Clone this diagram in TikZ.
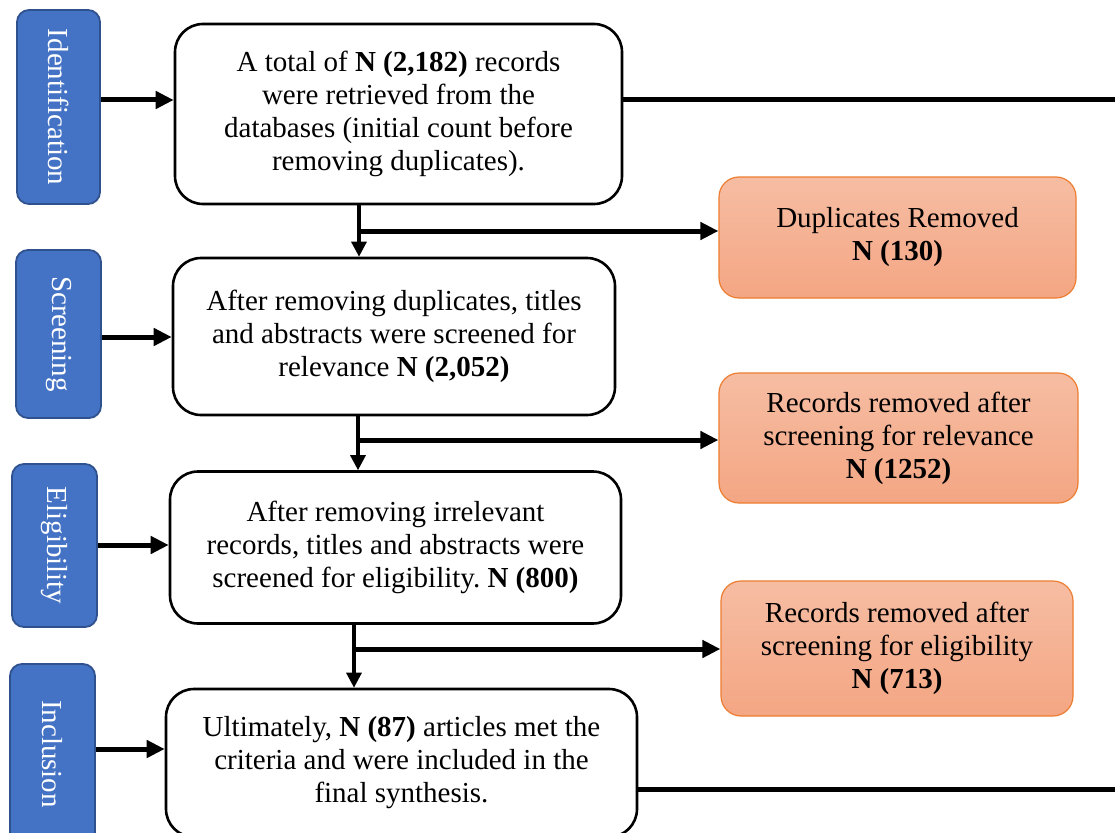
\documentclass[tikz,border=0pt]{standalone}
\usepackage{fontspec}
\setmainfont{Liberation Serif}
\usetikzlibrary{arrows.meta}
\frenchspacing
\definecolor{stageblue}{HTML}{4472C4}
\definecolor{stageedge}{HTML}{2F528F}
\definecolor{remtop}{HTML}{F6BDA3}
\definecolor{rembot}{HTML}{F4A683}
\definecolor{remedge}{HTML}{ED7D31}
\tikzset{
  stage/.style={rectangle,rounded corners=12pt,fill=stageblue,draw=stageedge,line width=1.8pt,
    text=white,inner sep=0pt},
  recbox/.style={rectangle,rounded corners=28pt,draw=black,line width=2.6pt,fill=white,
    align=center,inner sep=0pt},
  rembox/.style={rectangle,rounded corners=20pt,draw=remedge,line width=1.2pt,
    top color=remtop,bottom color=rembot,align=center,inner sep=0pt},
  bigarrow/.style={line width=5pt,-{Triangle[length=18pt,width=17pt]}},
  downarrow/.style={line width=3.2pt,-{Triangle[length=15pt,width=15pt]}},
  plainline/.style={line width=5pt}
}
\begin{document}
\begin{tikzpicture}[x=1pt,y=-1pt,font=\fontsize{29}{33}\selectfont]
\clip (0,0) rectangle (1115,832);
\fill[white] (0,0) rectangle (1115,832);
% stages
\node[stage,minimum width=83pt,minimum height=194pt] (sid) at (58.5,107) {};
\node[rotate=-90,text=white] at (sid.center) {Identification};
\node[stage,minimum width=85pt,minimum height=168pt] (ssc) at (58.5,334) {};
\node[rotate=-90,text=white] at (ssc.center) {Screening};
\node[stage,minimum width=85pt,minimum height=163pt] (sel) at (54.5,545.5) {};
\node[rotate=-90,text=white] at (sel.center) {Eligibility};
\node[stage,minimum width=85pt,minimum height=180pt] (sin) at (52.5,754) {};
\node[rotate=-90,text=white] at (sin.center) {Inclusion};
% records
\node[recbox,minimum width=447pt,minimum height=180pt] (rec) at (398.5,114)
  {A total of \textbf{N (2,182)} records\\were retrieved from the\\databases (initial count before\\removing duplicates).};
\node[recbox,minimum width=442pt,minimum height=157pt] (scr) at (394,336.5)
  {After removing duplicates, titles\\and abstracts were screened for\\relevance \textbf{N (2,052)}};
\node[recbox,minimum width=451pt,minimum height=152pt] (elg) at (395.5,547.5)
  {After removing irrelevant\\records, titles and abstracts were\\screened for eligibility. \textbf{N (800)}};
\node[recbox,minimum width=471pt,minimum height=148pt] (inc) at (401.5,763)
  {Ultimately, \textbf{N (87)} articles met the\\criteria and were included in the\\final synthesis.};
% removed
\node[rembox,minimum width=357pt,minimum height=121pt] (dup) at (897.5,237.5)
  {Duplicates Removed\\\textbf{N (130)}};
\node[rembox,minimum width=359pt,minimum height=130pt] (rel) at (898.5,438)
  {Records removed after\\screening for relevance\\\textbf{N (1252)}};
\node[rembox,minimum width=352pt,minimum height=135pt] (eli) at (897,648.5)
  {Records removed after\\screening for eligibility\\\textbf{N (713)}};
% connectors
\draw[bigarrow] (sid.east |- 0,100) -- (rec.west |- 0,100);
\draw[bigarrow] (ssc.east |- 0,337) -- (scr.west |- 0,337);
\draw[bigarrow] (sel.east |- 0,545) -- (elg.west |- 0,545);
\draw[bigarrow] (sin.east |- 0,749) -- (inc.west |- 0,749);
\coordinate (j1) at (359,231);
\coordinate (j2) at (358,440);
\coordinate (j3) at (354,649);
\draw[downarrow] (rec.south -| j1) -- (scr.north -| j1);
\draw[downarrow] (scr.south -| j2) -- (elg.north -| j2);
\draw[downarrow] (elg.south -| j3) -- (inc.north -| j3);
\draw[bigarrow] (j1) -- (j1 -| dup.west);
\draw[bigarrow] (j2) -- (j2 -| rel.west);
\draw[bigarrow] (j3) -- (j3 -| eli.west);
\coordinate (e1) at (1120,100);
\coordinate (e2) at (1120,789);
\draw[plainline] (rec.east |- e1) -- (e1);
\draw[plainline] (inc.east |- e2) -- (e2);
\end{tikzpicture}
\end{document}
